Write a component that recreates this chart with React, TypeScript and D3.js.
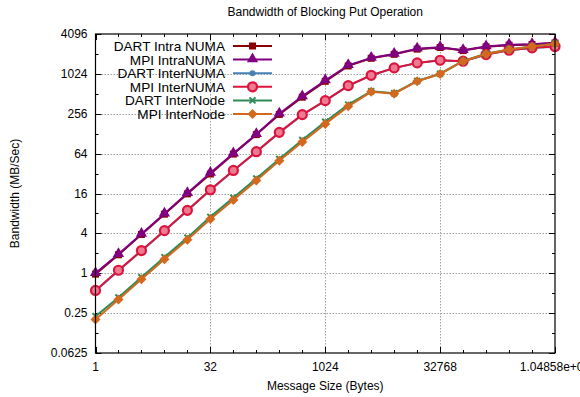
import React, { useRef, useEffect } from 'react';
import * as d3 from 'd3';

const SIZES = [1, 2, 4, 8, 16, 32, 64, 128, 256, 512, 1024, 2048, 4096, 8192, 16384, 32768, 65536, 131072, 262144, 524288, 1048576];

const DART_INTRA = [0.97, 1.9, 3.85, 7.8, 15.8, 31.5, 63, 124, 250, 455, 790, 1350, 1760, 2020, 2420, 2560, 2300, 2620, 2780, 2850, 2990];
const MPI_INTRA = [1.0, 1.94, 3.9, 7.9, 16.2, 32.6, 64, 126, 256, 468, 810, 1380, 1785, 2050, 2450, 2590, 2330, 2650, 2810, 2870, 3010];
const DART_INTERNUMA = [0.54, 1.09, 2.17, 4.35, 8.8, 18, 35.3, 68, 132, 245, 400, 675, 970, 1250, 1490, 1640, 1580, 2000, 2320, 2520, 2640];
const MPI_INTERNUMA = [0.55, 1.11, 2.2, 4.4, 8.9, 18.2, 35.7, 68.5, 134, 248, 404, 680, 975, 1260, 1500, 1645, 1590, 2005, 2330, 2535, 2650];
const DART_INTERNODE = [0.225, 0.43, 0.87, 1.75, 3.45, 7.1, 13.8, 27, 53, 103, 194, 352, 560, 522, 800, 1030, 1600, 2060, 2400, 2660, 2930];
const MPI_INTERNODE = [0.2, 0.4, 0.81, 1.63, 3.2, 6.6, 12.8, 25.1, 50, 96, 180, 331, 548, 515, 792, 1020, 1590, 2050, 2390, 2650, 2915];

const SERIES = [
    { name: "DART Intra NUMA", color: "#8b0000", marker: "square", values: DART_INTRA },
    { name: "MPI IntraNUMA", color: "#800080", marker: "triangle", values: MPI_INTRA },
    { name: "DART InterNUMA", color: "#4682b4", marker: "dot", values: DART_INTERNUMA },
    { name: "MPI InterNUMA", color: "#dc143c", marker: "ring", values: MPI_INTERNUMA },
    { name: "DART InterNode", color: "#2e8b57", marker: "cross", values: DART_INTERNODE },
    { name: "MPI InterNode", color: "#d2691e", marker: "diamond", values: MPI_INTERNODE },
];

const X_TICKS = [1, 32, 1024, 32768, 1048576];
const X_TICK_LABELS = ["1", "32", "1024", "32768", "1.04858e+06"];
const Y_TICKS = [0.0625, 0.25, 1, 4, 16, 64, 256, 1024, 4096];
const Y_MINOR = [0.125, 0.5, 2, 8, 32, 128, 512, 2048];

const FONT = "'Liberation Sans', Arial, Helvetica, sans-serif";

function drawMarker(g, type, x, y, color) {
    if (type === "square") {
        g.append("rect").attr("x", x - 3.5).attr("y", y - 3.5).attr("width", 7).attr("height", 7).attr("fill", color);
    } else if (type === "triangle") {
        g.append("path").attr("d", d3.symbol(d3.symbolTriangle, 55)()).attr("transform", `translate(${x},${y - 0.5})`).attr("fill", color);
    } else if (type === "dot") {
        g.append("circle").attr("cx", x).attr("cy", y).attr("r", 3).attr("fill", color);
    } else if (type === "ring") {
        g.append("circle").attr("cx", x).attr("cy", y).attr("r", 4.5).attr("fill", "#ec7a92").attr("stroke", color).attr("stroke-width", 2.2);
    } else if (type === "cross") {
        g.append("path").attr("d", `M${x - 3},${y - 3}L${x + 3},${y + 3}M${x - 3},${y + 3}L${x + 3},${y - 3}`)
            .attr("stroke", color).attr("stroke-width", 2);
    } else if (type === "diamond") {
        g.append("path").attr("d", `M${x},${y - 5}L${x + 5},${y}L${x},${y + 5}L${x - 5},${y}Z`).attr("fill", color);
    }
}

export default function App() {
    const svgRef = useRef(null);
    const W = 580, H = 397;
    const margin = { left: 95.5, right: 25, top: 34, bottom: 44 };

    useEffect(() => {
        const svg = d3.select(svgRef.current);
        svg.selectAll("*").remove();

        const x = d3.scaleLog().base(2).domain([1, 1048576]).range([margin.left, W - margin.right]);
        const y = d3.scaleLog().base(2).domain([0.0625, 4096]).range([H - margin.bottom, margin.top]);
        const [x0, x1] = x.range();
        const [yb, yt] = y.range();

        svg.append("rect").attr("width", W).attr("height", H).attr("fill", "#fff");

        // grid
        const grid = svg.append("g").attr("stroke", "#a0a0a0").attr("stroke-width", 1).attr("stroke-dasharray", "1.5,1.5");
        X_TICKS.slice(1, -1).forEach(t => {
            grid.append("line").attr("x1", Math.round(x(t)) + 0.5).attr("x2", Math.round(x(t)) + 0.5).attr("y1", yt).attr("y2", yb);
        });
        Y_TICKS.slice(1, -1).forEach(t => {
            grid.append("line").attr("x1", x0).attr("x2", x1).attr("y1", Math.round(y(t)) + 0.5).attr("y2", Math.round(y(t)) + 0.5);
        });

        // ticks (all four sides, inward)
        const ticks = svg.append("g").attr("stroke", "#000").attr("stroke-width", 1);
        SIZES.forEach(t => {
            const major = X_TICKS.includes(t);
            const len = major ? 6 : 3;
            const px = Math.round(x(t)) + 0.5;
            ticks.append("line").attr("x1", px).attr("x2", px).attr("y1", yb).attr("y2", yb - len);
            ticks.append("line").attr("x1", px).attr("x2", px).attr("y1", yt).attr("y2", yt + len);
        });
        Y_TICKS.concat(Y_MINOR).forEach(t => {
            const major = Y_TICKS.includes(t);
            const len = major ? 6 : 3;
            const py = Math.round(y(t)) + 0.5;
            ticks.append("line").attr("x1", x0).attr("x2", x0 + len).attr("y1", py).attr("y2", py);
            ticks.append("line").attr("x1", x1).attr("x2", x1 - len).attr("y1", py).attr("y2", py);
        });

        // tick labels (the last x label runs off the right edge, as in the original)
        const labels = svg.append("g").attr("font-family", FONT).attr("font-size", 12).attr("fill", "#000");
        X_TICKS.forEach((t, i) => {
            labels.append("text").attr("x", x(t)).attr("y", yb + 18).attr("text-anchor", "middle").text(X_TICK_LABELS[i]);
        });
        Y_TICKS.forEach(t => {
            labels.append("text").attr("x", x0 - 8).attr("y", y(t) + 4).attr("text-anchor", "end").text(String(t));
        });

        // series
        const line = d3.line().x((d, i) => x(SIZES[i])).y(d => y(d));
        SERIES.forEach(s => {
            const g = svg.append("g");
            g.append("path").datum(s.values).attr("d", line).attr("fill", "none")
                .attr("stroke", s.color).attr("stroke-width", 2);
            s.values.forEach((v, i) => drawMarker(g, s.marker, x(SIZES[i]), y(v), s.color));
        });

        // legend
        const leg = svg.append("g").attr("font-family", FONT).attr("font-size", 13.6);
        SERIES.forEach((s, i) => {
            const ly = 46 + i * 13.6;
            leg.append("text").attr("x", 225).attr("y", ly + 5).attr("text-anchor", "end").text(s.name);
            leg.append("line").attr("x1", 233).attr("x2", 272).attr("y1", ly).attr("y2", ly)
                .attr("stroke", s.color).attr("stroke-width", 2);
            drawMarker(leg, s.marker, 252.5, ly, s.color);
        });

        // border
        svg.append("rect").attr("x", x0).attr("y", yt).attr("width", x1 - x0).attr("height", yb - yt)
            .attr("fill", "none").attr("stroke", "#000").attr("stroke-width", 1.2);

        // titles
        svg.append("text").attr("x", (x0 + x1) / 2).attr("y", 16).attr("text-anchor", "middle")
            .attr("font-family", FONT).attr("font-size", 12).text("Bandwidth of Blocking Put Operation");
        svg.append("text").attr("x", (x0 + x1) / 2).attr("y", 390).attr("text-anchor", "middle")
            .attr("font-family", FONT).attr("font-size", 12).text("Message Size (Bytes)");
        svg.append("text").attr("transform", `translate(19,${(yt + yb) / 2}) rotate(-90)`).attr("text-anchor", "middle")
            .attr("font-family", FONT).attr("font-size", 12).text("Bandwidth (MB/Sec)");
    }, []);

    return (
        <svg ref={svgRef} width={W} height={H}
            style={{ position: "absolute", left: 0, top: 0, display: "block" }} />
    );
}
